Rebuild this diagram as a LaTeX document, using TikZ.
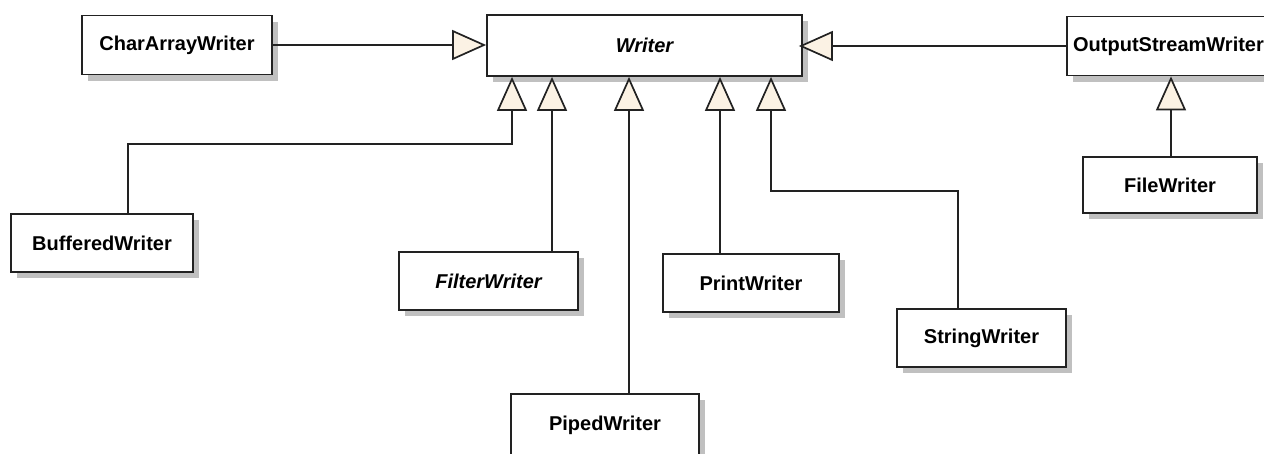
\documentclass[tikz,border=0pt]{standalone}
\usepackage{fontspec}
\setmainfont{Liberation Sans}
\usetikzlibrary{arrows.meta,shadows}
\definecolor{linecol}{RGB}{34,34,34}
\definecolor{shadecol}{RGB}{192,192,192}
\definecolor{headfill}{RGB}{251,242,228}
\tikzset{
  cls/.style={draw=linecol, line width=1.8pt, fill=white, inner sep=0pt,
    font=\fontsize{20}{24}\selectfont\bfseries,
    drop shadow={shadow xshift=6pt, shadow yshift=-6pt, fill=shadecol, opacity=1}},
  abstractcls/.style={cls, font=\fontsize{20}{24}\selectfont\bfseries\itshape},
  inh/.style={draw=linecol, line width=1.7pt,
    -{Triangle[length=34pt, width=30pt, fill=headfill]}}
}
\begin{document}
\begin{tikzpicture}[x=1pt, y=-1pt]
\useasboundingbox (0,0) rectangle (1264,453);
\clip (0,0) rectangle (1264,453);

% classes
\node[abstractcls, minimum width=315pt, minimum height=61pt] (writer) at (644.5,45.5) {Writer};
\node[cls, minimum width=190pt, minimum height=59pt] (chararray) at (177,45) {CharArrayWriter};
\node[cls, minimum width=203pt, minimum height=59pt] (osw) at (1168.5,46) {OutputStreamWriter};
\node[cls, minimum width=174pt, minimum height=56pt] (filew) at (1170,185) {FileWriter};
\node[cls, minimum width=182pt, minimum height=58pt] (buffered) at (102,243) {BufferedWriter};
\node[abstractcls, minimum width=179pt, minimum height=58pt] (filter) at (488.5,281) {FilterWriter};
\node[cls, minimum width=176pt, minimum height=58pt] (print) at (751,283) {PrintWriter};
\node[cls, minimum width=188pt, minimum height=62pt] (piped) at (605,425) {PipedWriter};
\node[cls, minimum width=169pt, minimum height=58pt] (string) at (981.5,338) {StringWriter};

% generalisations
\draw[inh] (chararray.east) -- (chararray.east -| writer.west);
\draw[inh, shorten >=-4pt] (osw.west) -- (osw.west -| writer.east);
\draw[inh] (filew.north -| 1171,0) -- (osw.south -| 1171,0);
\draw[inh] (buffered.north -| 128,0) |- (512,144) -- (writer.south -| 512,0);
\draw[inh] (filter.north -| 552,0) -- (writer.south -| 552,0);
\draw[inh] (piped.north -| 629,0) -- (writer.south -| 629,0);
\draw[inh] (print.north -| 720,0) -- (writer.south -| 720,0);
\draw[inh] (string.north -| 958,0) |- (771,191) -- (writer.south -| 771,0);
\end{tikzpicture}
\end{document}
